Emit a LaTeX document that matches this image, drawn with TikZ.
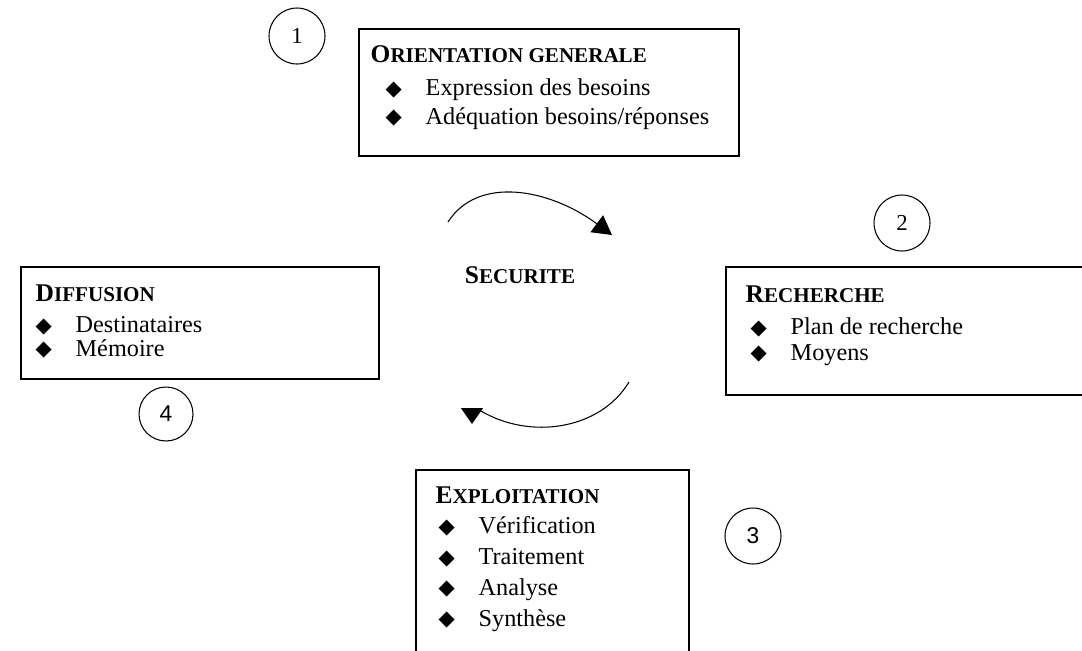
\documentclass[tikz,border=0pt]{standalone}
\usepackage{fontspec}
\setmainfont{Liberation Serif}
\newfontfamily\chiffre{Liberation Sans}
\newfontfamily\symbole{DejaVu Sans}
\usetikzlibrary{arrows.meta,positioning}

\newcommand{\puce}{\makebox[0.8cm][l]{\raisebox{0.3pt}{\symbole\fontsize{12}{12}\selectfont ◆}}}
\newcommand{\titre}[2]{{\bfseries\fontsize{14.5}{14.5}\selectfont #1\fontsize{12}{12}\selectfont #2}}

\begin{document}
\begin{tikzpicture}[x=0.02cm, y=-0.02cm, thick]
    % Stili
    \tikzstyle{boite}=[rectangle, draw=black, line width=1.1pt, anchor=north west, inner sep=0pt]
    \tikzstyle{numero}=[circle, draw=black, line width=0.6pt, minimum size=1.08cm, inner sep=0pt, font=\fontsize{13}{13}\selectfont]
    \tikzstyle{entete}=[anchor=base west, inner sep=0pt]
    \tikzstyle{liste}=[anchor=north west, inner sep=0pt, align=left]
    \tikzstyle{fleche}=[-{Triangle[length=0.38cm, width=0.42cm]}, line width=0.6pt]

    \useasboundingbox (0,0) rectangle (1082,650);
    \clip (0,0) rectangle (1082,650);

    % Cadres
    \node (orientation) [boite, minimum width=7.6cm, minimum height=2.54cm] at (358,28) {};
    \node (recherche) [boite, minimum width=7.4cm, minimum height=2.56cm] at (725,266) {};
    \node (exploitation) [boite, minimum width=5.46cm, minimum height=4.4cm] at (415,469) {};
    \node (diffusion) [boite, minimum width=7.16cm, minimum height=2.24cm] at (20,266) {};

    % Titres
    \node (t_orientation) [entete] at (370,62) {\titre{O}{RIENTATION GENERALE}};
    \node (t_recherche) [entete] at (745,302) {\titre{R}{ECHERCHE}};
    \node (t_exploitation) [entete] at (435,503) {\titre{E}{XPLOITATION}};
    \node (t_diffusion) [entete] at (35,301) {\titre{D}{IFFUSION}};

    % Listes
    \node (l_orientation) [liste, font=\fontsize{13.8}{16.4}\selectfont] at (385,78)
        {\puce Expression des besoins\\ \puce Adéquation besoins/réponses};
    \node (l_recherche) [liste, font=\fontsize{13.8}{14.7}\selectfont] at (750,317)
        {\puce Plan de recherche\\ \puce Moyens};
    \node (l_exploitation) [liste, font=\fontsize{13.8}{17.5}\selectfont] at (438,516)
        {\puce Vérification\\ \puce Traitement\\ \puce Analyse\\ \puce Synthèse};
    \node (l_diffusion) [liste, font=\fontsize{13.8}{13.4}\selectfont] at (35,316)
        {\puce Destinataires\\ \puce Mémoire};

    % Numeri
    \node (n1) [numero, minimum size=1.12cm] at (297,36) {1};
    \node (n2) [numero, minimum size=1.12cm] at (902,223) {2};
    \node (n3) [numero, minimum size=1.12cm] at (753,536) {\chiffre 3};
    \node (n4) [numero] at (166,414) {\chiffre 4};

    % Centro
    \node (securite) at (520,275) {\titre{S}{ECURITE}};

    % Frecce
    \coordinate (a_debut) at (448,222);
    \coordinate (a_fin) at (612,235);
    \coordinate (b_debut) at (629,382);
    \coordinate (b_fin) at (481,411);
    \coordinate (b_base) at (472,408);
    \coordinate (b_pointe) at (472,424);
    \draw [fleche] (a_debut) .. controls (478,175) and (550,189) .. (a_fin);
    \draw [line width=0.6pt] (b_debut) .. controls (600,430) and (530,440) .. (b_fin);
    \draw [-{Triangle[length=0.32cm, width=0.44cm]}, line width=0.6pt] (b_base) -- (b_pointe);

\end{tikzpicture}
\end{document}
